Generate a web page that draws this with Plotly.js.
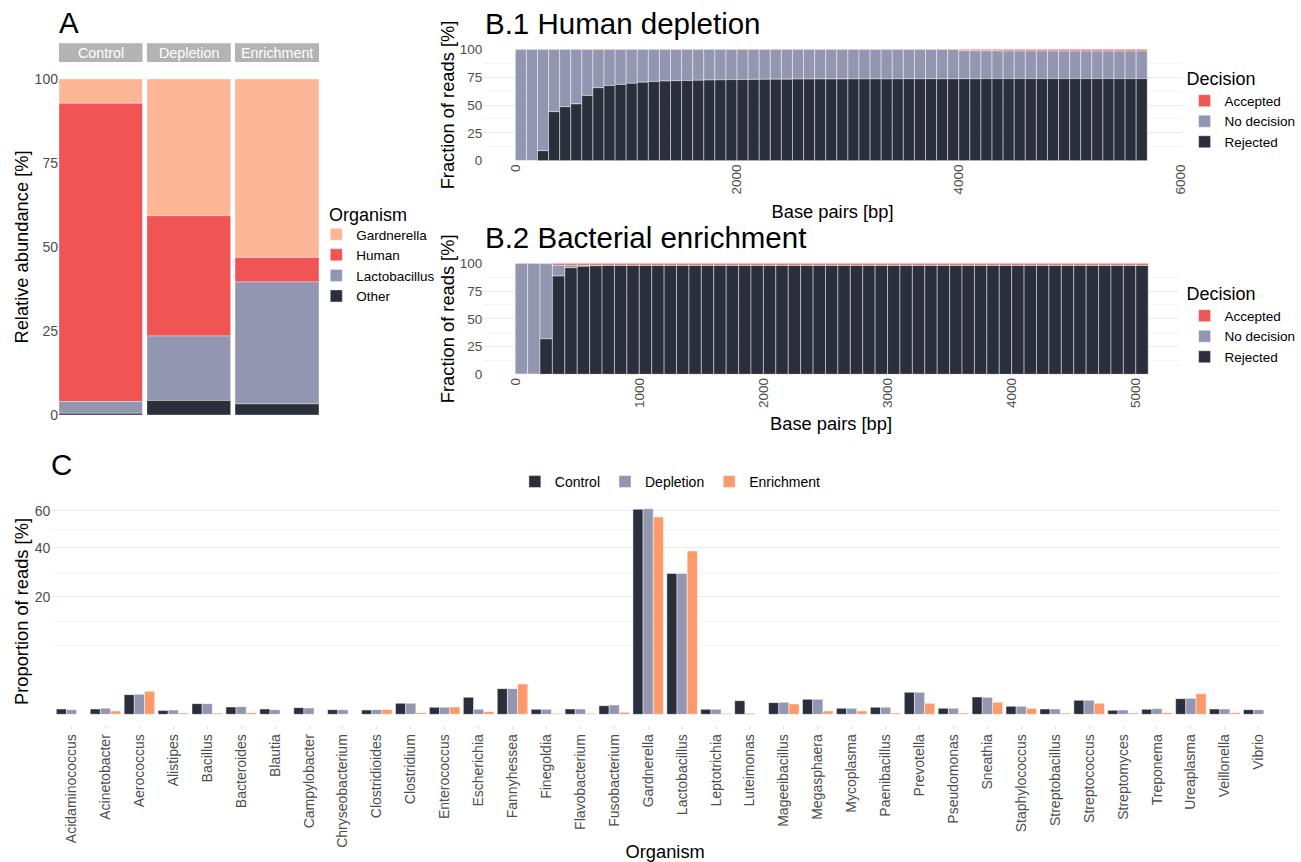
<!DOCTYPE html>
<html>
<head>
<meta charset="utf-8">
<script src="https://cdn.plot.ly/plotly-3.0.1.min.js"></script>
<style>html,body{margin:0;padding:0;background:#fff;}#chart{width:1301px;height:862px;}</style>
</head>
<body>
<div id="chart"></div>
<script>
// ---------------- DATA ----------------
// Panel A: relative abundance [%]
const samples = ['Control', 'Depletion', 'Enrichment'];
const organismsA = ['Gardnerella', 'Human', 'Lactobacillus', 'Other'];
const gardnerellaA = [7.2, 40.7, 53.1];
const humanA = [88.8, 35.8, 7.3];
const lactobacillusA = [3.5, 19.2, 36.3];
const otherA = [0.5, 4.3, 3.3];

// Panel B.1: human depletion, 100 bp bins (bin centres)
const bins1 = [50,150,250,350,450,550,650,750,850,950,1050,1150,1250,1350,1450,1550,1650,1750,1850,1950,
  2050,2150,2250,2350,2450,2550,2650,2750,2850,2950,3050,3150,3250,3350,3450,3550,3650,3750,3850,3950,
  4050,4150,4250,4350,4450,4550,4650,4750,4850,4950,5050,5150,5250,5350,5450,5550,5650];
const rejected1 = [0,0,9,44,48.5,51,58.5,65.5,67.5,68.5,69.5,70.5,71,71.5,71.8,72,72.2,72.4,72.6,72.8,
  72.9,73,73.1,73.2,73.2,73.3,73.3,73.4,73.4,73.4,73.5,73.5,73.5,73.5,73.6,73.6,73.6,73.6,73.6,73.6,
  73.6,73.6,73.7,73.7,73.7,73.7,73.7,73.7,73.7,73.7,73.7,73.7,73.7,73.7,73.7,73.7,73.7];
const noDecision1 = [100,100,91,56,51.5,49,41.5,34.5,32.5,31.5,30.5,29.5,29,28.5,28.2,28,27.8,27.6,27.4,27.2,
  27.1,27,26.9,26.8,26.8,26.7,26.7,26.6,26.6,26.6,26.5,26.5,26.5,26.5,26.4,26.4,26.4,26.4,26.4,26.4,
  25.2,25.1,24.9,24.9,24.8,24.8,24.8,24.8,24.8,24.7,24.7,24.7,24.7,24.7,24.7,24.7,24.7];
const accepted1 = [0,0,0,0,0,0,0,0,0,0,0,0,0,0,0,0,0,0,0,0,
  0,0,0,0,0,0,0,0,0,0,0,0,0,0,0,0,0,0,0,0,
  1.2,1.3,1.4,1.4,1.5,1.5,1.5,1.5,1.5,1.6,1.6,1.6,1.6,1.6,1.6,1.6,1.6];

// Panel B.2: bacterial enrichment, 100 bp bins (bin centres)
const bins2 = [50,150,250,350,450,550,650,750,850,950,1050,1150,1250,1350,1450,1550,1650,1750,1850,1950,
  2050,2150,2250,2350,2450,2550,2650,2750,2850,2950,3050,3150,3250,3350,3450,3550,3650,3750,3850,3950,
  4050,4150,4250,4350,4450,4550,4650,4750,4850,4950,5050];
const rejected2 = [0,0,32,88.5,96,97.3,97.8,98,98,98,98,98,98,98,98,98,98,98,98,98,
  98,98,98,98,98,98,98,98,98,98,98,98,98,98,98,98,98,98,98,98,
  98,98,98,98,98,98,98,98,98,98,98];
const noDecision2 = [100,100,67.6,9.7,2.2,0.9,0.4,0.2,0.2,0.2,0.2,0.2,0.2,0.2,0.2,0.2,0.2,0.2,0.2,0.2,
  0.2,0.2,0.2,0.2,0.2,0.2,0.2,0.2,0.2,0.2,0.2,0.2,0.2,0.2,0.2,0.2,0.2,0.2,0.2,0.2,
  0.2,0.2,0.2,0.2,0.2,0.2,0.2,0.2,0.2,0.2,0.2];
const accepted2 = [0,0,0.4,1.8,1.8,1.8,1.8,1.8,1.8,1.8,1.8,1.8,1.8,1.8,1.8,1.8,1.8,1.8,1.8,1.8,
  1.8,1.8,1.8,1.8,1.8,1.8,1.8,1.8,1.8,1.8,1.8,1.8,1.8,1.8,1.8,1.8,1.8,1.8,1.8,1.8,
  1.8,1.8,1.8,1.8,1.8,1.8,1.8,1.8,1.8,1.8,1.8];

// Panel C: proportion of reads [%] per genus
const organismsC = ['Acidaminococcus','Acinetobacter','Aerococcus','Alistipes','Bacillus','Bacteroides','Blautia',
  'Campylobacter','Chryseobacterium','Clostridioides','Clostridium','Enterococcus','Escherichia','Fannyhessea',
  'Finegoldia','Flavobacterium','Fusobacterium','Gardnerella','Lactobacillus','Leptotrichia','Luteimonas',
  'Mageeibacillus','Megasphaera','Mycoplasma','Paenibacillus','Prevotella','Pseudomonas','Sneathia',
  'Staphylococcus','Streptobacillus','Streptococcus','Streptomyces','Treponema','Ureaplasma','Veillonella','Vibrio'];
const controlC = [0.041,0.041,0.561,0.020,0.166,0.077,0.041,0.065,0.032,0.027,0.175,0.071,0.418,0.955,
  0.036,0.041,0.109,60.8,28.7,0.036,0.271,0.198,0.325,0.052,0.071,0.70,0.052,0.433,
  0.0925,0.041,0.283,0.023,0.036,0.356,0.041,0.032];
const depletionC = [0.032,0.052,0.578,0.027,0.166,0.086,0.032,0.057,0.032,0.032,0.175,0.071,0.036,0.955,
  0.036,0.041,0.125,61.1,28.7,0.036,0.0014,0.208,0.325,0.052,0.071,0.70,0.052,0.418,
  0.0925,0.041,0.283,0.027,0.047,0.37,0.041,0.032];
const enrichmentC = [0,0.016,0.765,0.0024,0.0024,0.0042,0,0,0,0.032,0.0042,0.077,0.0105,1.327,
  0.0014,0.0014,0.0058,56.3,38.6,0.0014,0,0.153,0.016,0.016,0.0024,0.175,0.0024,0.208,
  0.052,0.0024,0.175,0.0024,0.0042,0.619,0.0042,0];
const yTicksC = [20, 40, 60];
const yMinorGridC = [6.86, 12.57, 29.14, 49.49];

// ---------------- STYLE ----------------
const W = 1301, H = 862;
const FONT = 'Liberation Sans, Arial, Helvetica, sans-serif';
const TICK = '#4D4D4D';
const GRID = '#EBEBEB';
const GRIDMINOR = '#F4F4F4';
const colA = {Gardnerella: '#FDB797', Human: '#F05454', Lactobacillus: '#9296B0', Other: '#2A2F3B'};
const colDec = {Accepted: '#F05454', 'No decision': '#9296B0', Rejected: '#2A2F3B'};
const colC = {Control: '#2A2F3B', Depletion: '#9296B0', Enrichment: '#FD9A6C'};
const px = v => v / W;
const py = v => 1 - v / H;

const traces = [];

// Panel A: one facet per sample, stacked Other < Lactobacillus < Human < Gardnerella
const seriesA = {Gardnerella: gardnerellaA, Human: humanA, Lactobacillus: lactobacillusA, Other: otherA};
const stackOrderA = ['Other', 'Lactobacillus', 'Human', 'Gardnerella'];
const facetAxes = ['x', 'x2', 'x3'];
samples.forEach((s, i) => {
  organismsA.forEach(org => {
    let base = 0;
    for (const o of stackOrderA) { if (o === org) break; base += seriesA[o][i]; }
    traces.push({
      type: 'bar', x: [s], y: [seriesA[org][i]], base: [base], width: [1],
      xaxis: facetAxes[i], yaxis: 'y', name: org, legend: 'legend', legendgroup: org,
      showlegend: i === 0, marker: {color: colA[org], line: {color: 'rgba(255,255,255,0.6)', width: 0.6}},
      hoverinfo: 'name+y'
    });
  });
});

// Panels B: stacked Rejected < No decision < Accepted, legend order Accepted, No decision, Rejected
function decisionTraces(bins, acc, nd, rej, xa, ya, leg) {
  const ser = {Accepted: acc, 'No decision': nd, Rejected: rej};
  const order = ['Rejected', 'No decision', 'Accepted'];
  ['Accepted', 'No decision', 'Rejected'].forEach(name => {
    const bases = bins.map((b, j) => {
      let s = 0;
      for (const o of order) { if (o === name) break; s += ser[o][j]; }
      return s;
    });
    traces.push({
      type: 'bar', x: bins, y: ser[name], base: bases, width: bins.map(() => 100),
      xaxis: xa, yaxis: ya, name: name, legend: leg,
      marker: {color: colDec[name], line: {color: 'rgba(255,255,255,0.75)', width: 0.6}},
      hoverinfo: 'name+x+y'
    });
  });
}
decisionTraces(bins1, accepted1, noDecision1, rejected1, 'x4', 'y2', 'legend2');
decisionTraces(bins2, accepted2, noDecision2, rejected2, 'x5', 'y3', 'legend3');

// Panel C: grouped bars on a square-root axis
const seriesC = {Control: controlC, Depletion: depletionC, Enrichment: enrichmentC};
const offsetsC = {Control: -0.45, Depletion: -0.15, Enrichment: 0.15};
Object.keys(seriesC).forEach(name => {
  traces.push({
    type: 'bar', x: organismsC, y: seriesC[name].map(v => Math.sqrt(v)),
    customdata: seriesC[name], hovertemplate: '%{x}: %{customdata}%<extra>' + name + '</extra>',
    width: organismsC.map(() => 0.3), offset: organismsC.map(() => offsetsC[name]),
    xaxis: 'x6', yaxis: 'y4', name: name, legend: 'legend4',
    marker: {color: colC[name], line: {color: 'rgba(255,255,255,0.8)', width: 0.6}}
  });
});

// ---------------- LAYOUT ----------------
const tickFont = {family: FONT, size: 14, color: TICK};
const titleFont = {family: FONT, size: 18.3, color: '#000'};
const facetX = (dom) => ({domain: dom, anchor: 'y', range: [-0.5, 0.5], showticklabels: false, showgrid: false,
  zeroline: false, showline: false, ticks: '', fixedrange: true});
const decY = (dom, anchor) => ({domain: dom, anchor: anchor, range: [0, 100], tickvals: [0, 25, 50, 75, 100],
  showgrid: true, gridcolor: GRID, gridwidth: 1, zeroline: false, tickfont: {family: FONT, size: 13.5, color: TICK},
  minor: {tickmode: 'array', tickvals: [12.5, 37.5, 62.5, 87.5], showgrid: true, gridcolor: GRIDMINOR, gridwidth: 1, ticks: ''},
  title: {text: 'Fraction of reads [%]', font: titleFont, standoff: 0}});
const legTitle = t => ({text: t, font: {family: FONT, size: 18, color: '#000'}});
const legFont = {family: FONT, size: 13.5, color: '#000'};

const stripFont = {family: FONT, size: 14.3, color: '#fff'};
const letterFont = {family: FONT, size: 29.5, color: '#000'};

const layout = {
  width: W, height: H,
  margin: {l: 0, r: 0, t: 0, b: 0},
  paper_bgcolor: '#fff', plot_bgcolor: 'rgba(0,0,0,0)',
  barmode: 'overlay',
  font: {family: FONT, color: '#000'},
  showlegend: true,
  xaxis: facetX([px(59.3), px(143.3)]),
  xaxis2: facetX([px(147.7), px(232)]),
  xaxis3: facetX([px(236.3), px(320.7)]),
  yaxis: {domain: [py(415), py(79)], anchor: 'x', range: [0, 100], tickvals: [0, 25, 50, 75, 100],
    showgrid: false, zeroline: false, tickfont: tickFont,
    title: {text: 'Relative abundance [%]', font: titleFont, standoff: 1}},
  xaxis4: {domain: [px(486), px(1188)], anchor: 'y2', range: [-288, 6010], tickvals: [0, 2000, 4000, 6000],
    tickangle: -90, showgrid: false, zeroline: false, tickfont: {family: FONT, size: 13.5, color: TICK},
    title: {text: 'Base pairs [bp]', font: titleFont, standoff: 11}},
  yaxis2: decY([py(160.7), py(49.3)], 'x4'),
  xaxis5: {domain: [px(486), px(1185)], anchor: 'y3', range: [-256, 5345], tickvals: [0, 1000, 2000, 3000, 4000, 5000],
    tickangle: -90, showgrid: false, zeroline: false, tickfont: {family: FONT, size: 13.5, color: TICK},
    title: {text: 'Base pairs [bp]', font: titleFont, standoff: 10}},
  yaxis3: decY([py(374.3), py(263.3)], 'x5'),
  xaxis6: {domain: [px(51.5), px(1286)], anchor: 'y4', type: 'category', range: [-0.6, 35.6],
    tickangle: -90, showgrid: false, zeroline: false, tickfont: tickFont,
    ticks: 'outside', ticklen: 3, tickcolor: '#DDDDDD', tickwidth: 1,
    title: {text: 'Organism', font: titleFont, standoff: 6}},
  yaxis4: {domain: [py(724.6), py(498.4)], anchor: 'x6', range: [-0.39, 8.21],
    tickvals: yTicksC.map(v => Math.sqrt(v)), ticktext: yTicksC.map(String),
    showgrid: true, gridcolor: GRID, zeroline: false, tickfont: tickFont,
    minor: {tickmode: 'array', tickvals: yMinorGridC.map(v => Math.sqrt(v)), showgrid: true, gridcolor: GRIDMINOR, ticks: ''},
    title: {text: 'Proportion of reads [%]', font: titleFont, standoff: 1}},
  legend: {x: px(318), xanchor: 'left', y: py(219), yanchor: 'top', bgcolor: 'rgba(0,0,0,0)',
    font: legFont, tracegroupgap: 0, traceorder: 'normal'},
  legend2: {x: px(1191), xanchor: 'left', y: py(62), yanchor: 'top', bgcolor: 'rgba(0,0,0,0)',
    title: legTitle('Decision'), font: legFont, traceorder: 'normal'},
  legend3: {x: px(1191), xanchor: 'left', y: py(277), yanchor: 'top', bgcolor: 'rgba(0,0,0,0)',
    title: legTitle('Decision'), font: legFont, traceorder: 'normal'},
  legend4: {orientation: 'h', x: px(674), xanchor: 'center', y: py(482), yanchor: 'middle', bgcolor: 'rgba(0,0,0,0)',
    font: {family: FONT, size: 14, color: '#000'}, traceorder: 'normal'},
  shapes: [
    {type: 'rect', xref: 'paper', yref: 'paper', x0: px(59.3), x1: px(143.3), y0: py(62), y1: py(43.3), fillcolor: '#B3B3B3', line: {width: 0}, layer: 'below'},
    {type: 'rect', xref: 'paper', yref: 'paper', x0: px(147.7), x1: px(232), y0: py(62), y1: py(43.3), fillcolor: '#B3B3B3', line: {width: 0}, layer: 'below'},
    {type: 'rect', xref: 'paper', yref: 'paper', x0: px(236.3), x1: px(320.7), y0: py(62), y1: py(43.3), fillcolor: '#B3B3B3', line: {width: 0}, layer: 'below'}
  ],
  annotations: [
    {text: 'Control', xref: 'paper', yref: 'paper', x: px(101.3), y: py(52.7), xanchor: 'center', yanchor: 'middle', showarrow: false, font: stripFont},
    {text: 'Depletion', xref: 'paper', yref: 'paper', x: px(189.9), y: py(52.7), xanchor: 'center', yanchor: 'middle', showarrow: false, font: stripFont},
    {text: 'Enrichment', xref: 'paper', yref: 'paper', x: px(278.5), y: py(52.7), xanchor: 'center', yanchor: 'middle', showarrow: false, font: stripFont},
    {text: 'Organism', xref: 'paper', yref: 'paper', x: px(329), y: py(215), xanchor: 'left', yanchor: 'middle', showarrow: false, font: {family: FONT, size: 18, color: '#000'}},
    {text: 'A', xref: 'paper', yref: 'paper', x: px(57), y: py(23), xanchor: 'left', yanchor: 'middle', showarrow: false, font: letterFont},
    {text: 'B.1 Human depletion', xref: 'paper', yref: 'paper', x: px(486), y: py(24), xanchor: 'left', yanchor: 'middle', showarrow: false, font: letterFont},
    {text: 'B.2 Bacterial enrichment', xref: 'paper', yref: 'paper', x: px(486), y: py(238), xanchor: 'left', yanchor: 'middle', showarrow: false, font: letterFont},
    {text: 'C', xref: 'paper', yref: 'paper', x: px(49), y: py(465), xanchor: 'left', yanchor: 'middle', showarrow: false, font: letterFont}
  ]
};

Plotly.newPlot('chart', traces, layout, {staticPlot: true, displayModeBar: false});
</script>
</body>
</html>
